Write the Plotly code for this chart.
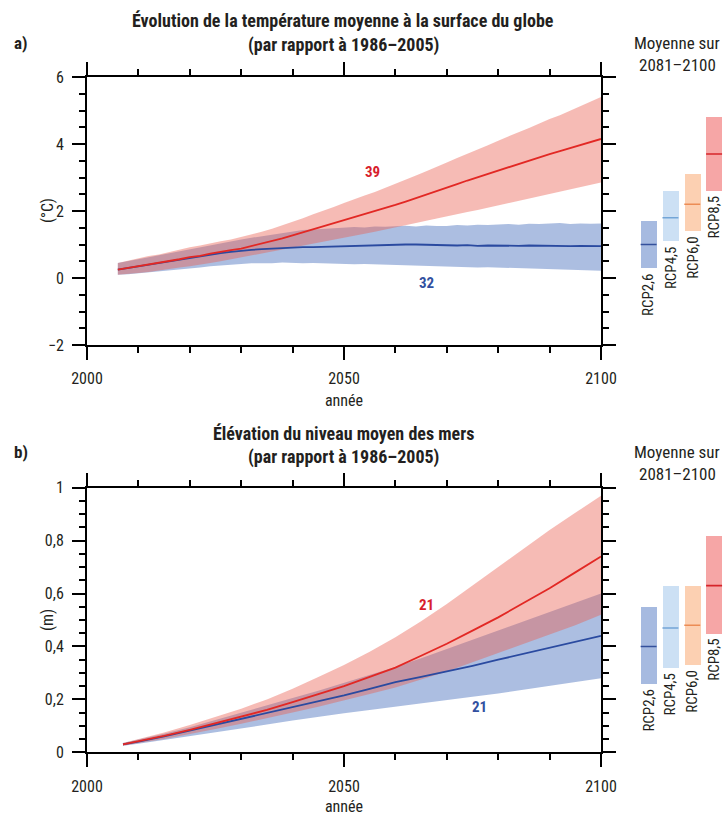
import plotly.graph_objects as go

# ---------------- Panel a: global mean surface temperature ----------------
years_a = [2006, 2008, 2010, 2012, 2014, 2016, 2018, 2020, 2022, 2024, 2026, 2028, 2030, 2032,
           2034, 2036, 2038, 2040, 2042, 2044, 2046, 2048, 2050, 2052, 2054, 2056, 2058, 2060,
           2062, 2064, 2066, 2068, 2070, 2072, 2074, 2076, 2078, 2080, 2082, 2084, 2086, 2088,
           2090, 2092, 2094, 2096, 2098, 2100]

rcp85_mean_a = [0.25, 0.30, 0.34, 0.40, 0.44, 0.50, 0.56, 0.62, 0.66, 0.73, 0.77, 0.83, 0.88, 0.95,
                1.02, 1.09, 1.18, 1.27, 1.36, 1.44, 1.54, 1.64, 1.73, 1.81, 1.90, 1.99, 2.08, 2.18,
                2.28, 2.38, 2.48, 2.60, 2.70, 2.80, 2.91, 3.01, 3.11, 3.22, 3.31, 3.42, 3.50, 3.61,
                3.70, 3.79, 3.88, 3.98, 4.06, 4.15]
rcp85_high_a = [0.45, 0.52, 0.60, 0.66, 0.70, 0.78, 0.86, 0.92, 0.97, 1.04, 1.10, 1.15, 1.22, 1.30,
                1.38, 1.47, 1.57, 1.68, 1.78, 1.90, 2.00, 2.12, 2.24, 2.34, 2.46, 2.57, 2.69, 2.80,
                2.94, 3.06, 3.19, 3.33, 3.45, 3.58, 3.70, 3.84, 3.96, 4.10, 4.22, 4.36, 4.48, 4.61,
                4.75, 4.86, 5.00, 5.12, 5.26, 5.40]
rcp85_low_a = [0.10, 0.12, 0.15, 0.18, 0.22, 0.26, 0.31, 0.35, 0.39, 0.45, 0.50, 0.55, 0.60, 0.66,
               0.72, 0.78, 0.84, 0.90, 0.96, 1.02, 1.08, 1.14, 1.20, 1.26, 1.32, 1.38, 1.44, 1.50,
               1.57, 1.64, 1.71, 1.78, 1.85, 1.91, 1.97, 2.03, 2.09, 2.15, 2.22, 2.29, 2.36, 2.43,
               2.50, 2.57, 2.64, 2.71, 2.78, 2.85]

rcp26_mean_a = [0.25, 0.30, 0.35, 0.40, 0.45, 0.50, 0.55, 0.61, 0.66, 0.70, 0.74, 0.78, 0.82, 0.84,
                0.86, 0.88, 0.89, 0.90, 0.92, 0.92, 0.93, 0.94, 0.95, 0.97, 0.96, 0.98, 0.99, 0.99,
                1.00, 1.00, 0.99, 0.98, 0.98, 0.97, 0.98, 0.96, 0.97, 0.96, 0.97, 0.96, 0.97, 0.96,
                0.97, 0.96, 0.95, 0.96, 0.95, 0.95]
rcp26_high_a = [0.45, 0.50, 0.55, 0.62, 0.68, 0.74, 0.80, 0.85, 0.92, 0.98, 1.05, 1.10, 1.15, 1.20,
                1.25, 1.30, 1.35, 1.40, 1.43, 1.45, 1.47, 1.48, 1.50, 1.52, 1.51, 1.54, 1.53, 1.55,
                1.56, 1.54, 1.57, 1.55, 1.55, 1.58, 1.57, 1.59, 1.58, 1.60, 1.61, 1.59, 1.62, 1.61,
                1.62, 1.64, 1.61, 1.63, 1.62, 1.63]
rcp26_low_a = [0.10, 0.11, 0.12, 0.15, 0.18, 0.21, 0.25, 0.28, 0.31, 0.35, 0.38, 0.40, 0.42, 0.44,
               0.45, 0.44, 0.46, 0.45, 0.44, 0.45, 0.43, 0.44, 0.42, 0.41, 0.42, 0.40, 0.39, 0.38,
               0.37, 0.38, 0.36, 0.35, 0.33, 0.34, 0.32, 0.31, 0.32, 0.30, 0.29, 0.30, 0.28, 0.27,
               0.27, 0.26, 0.25, 0.24, 0.23, 0.22]

# ---------------- Panel b: global mean sea level rise ----------------
years_b = [2007, 2010, 2015, 2020, 2025, 2030, 2035, 2040, 2045, 2050, 2055, 2060, 2065, 2070,
           2075, 2080, 2085, 2090, 2095, 2100]
rcp85_mean_b = [0.030, 0.042, 0.062, 0.085, 0.110, 0.135, 0.160, 0.190, 0.220, 0.250, 0.285, 0.320,
                0.365, 0.410, 0.460, 0.510, 0.565, 0.620, 0.680, 0.740]
rcp85_high_b = [0.035, 0.050, 0.075, 0.103, 0.135, 0.165, 0.200, 0.240, 0.285, 0.330, 0.380, 0.435,
                0.495, 0.560, 0.630, 0.700, 0.770, 0.840, 0.905, 0.970]
rcp85_low_b = [0.025, 0.035, 0.050, 0.068, 0.088, 0.108, 0.128, 0.150, 0.172, 0.195, 0.220, 0.245,
               0.275, 0.305, 0.340, 0.375, 0.410, 0.445, 0.480, 0.520]
rcp26_mean_b = [0.030, 0.040, 0.060, 0.082, 0.105, 0.128, 0.150, 0.172, 0.193, 0.215, 0.240, 0.265,
                0.285, 0.305, 0.327, 0.350, 0.372, 0.394, 0.417, 0.440]
rcp26_high_b = [0.035, 0.048, 0.070, 0.095, 0.122, 0.150, 0.178, 0.205, 0.233, 0.262, 0.292, 0.322,
                0.355, 0.390, 0.425, 0.460, 0.495, 0.530, 0.565, 0.600]
rcp26_low_b = [0.025, 0.032, 0.045, 0.060, 0.075, 0.090, 0.105, 0.120, 0.135, 0.148, 0.160, 0.172,
               0.185, 0.197, 0.210, 0.222, 0.235, 0.250, 0.265, 0.280]

# ---------------- 2081-2100 mean bars ----------------
scenarios = ["RCP2,6", "RCP4,5", "RCP6,0", "RCP8,5"]
temp_mean = [1.0, 1.8, 2.2, 3.7]
temp_low = [0.3, 1.1, 1.4, 2.6]
temp_high = [1.7, 2.6, 3.1, 4.8]
sea_mean = [0.40, 0.47, 0.48, 0.63]
sea_low = [0.26, 0.32, 0.33, 0.45]
sea_high = [0.55, 0.63, 0.63, 0.82]

# number of models
n_models_a = {"rcp85": "39", "rcp26": "32"}
n_models_b = {"rcp85": "21", "rcp26": "21"}

# ---------------- styles ----------------
FONT = "Liberation Sans Narrow, Roboto Condensed, Arial Narrow, Liberation Sans, sans-serif"
TXT = "#231F20"
RED_LINE = "rgb(226,40,36)"
BLUE_LINE = "rgb(42,74,160)"
RED_FILL = "rgba(234,92,78,0.42)"
BLUE_FILL = "rgba(66,106,186,0.44)"
BAR_FILL = ["rgb(166,186,224)", "rgb(204,224,244)", "rgb(252,208,178)", "rgb(246,166,166)"]
BAR_LINE = ["rgb(52,80,155)", "rgb(115,165,215)", "rgb(236,140,85)", "rgb(214,36,42)"]

fig = go.Figure()


def band(x, lo, hi, color, xa, ya):
    fig.add_trace(go.Scatter(x=list(x) + list(x)[::-1], y=list(hi) + list(lo)[::-1],
                             fill="toself", fillcolor=color, line=dict(width=0),
                             mode="lines", hoverinfo="skip", showlegend=False,
                             xaxis=xa, yaxis=ya))


def line(x, y, color, xa, ya):
    fig.add_trace(go.Scatter(x=x, y=y, mode="lines", line=dict(color=color, width=1.8),
                             showlegend=False, xaxis=xa, yaxis=ya))


# panel a
band(years_a, rcp26_low_a, rcp26_high_a, BLUE_FILL, "x", "y")
band(years_a, rcp85_low_a, rcp85_high_a, RED_FILL, "x", "y")
line(years_a, rcp26_mean_a, BLUE_LINE, "x", "y")
line(years_a, rcp85_mean_a, RED_LINE, "x", "y")
# panel b
band(years_b, rcp26_low_b, rcp26_high_b, BLUE_FILL, "x2", "y2")
band(years_b, rcp85_low_b, rcp85_high_b, RED_FILL, "x2", "y2")
line(years_b, rcp26_mean_b, BLUE_LINE, "x2", "y2")
line(years_b, rcp85_mean_b, RED_LINE, "x2", "y2")


def bars(lo, hi, mean, xa, ya):
    idx = list(range(len(scenarios)))
    fig.add_trace(go.Bar(x=idx, y=[h - l for h, l in zip(hi, lo)], base=lo, width=0.73,
                         marker=dict(color=BAR_FILL, line=dict(width=0)),
                         showlegend=False, xaxis=xa, yaxis=ya))
    fig.add_trace(go.Scatter(x=idx, y=mean, mode="markers",
                             marker=dict(symbol="line-ew", size=11.4,
                                         line=dict(color=BAR_LINE, width=1.6)),
                             showlegend=False, xaxis=xa, yaxis=ya))
    for i, s in enumerate(scenarios):
        fig.add_annotation(x=i, y=lo[i], xref=xa, yref=ya, text=s, showarrow=False,
                           textangle=-90, xanchor="center", yanchor="top", yshift=-3,
                           font=dict(family=FONT, size=15, color=TXT))


bars(temp_low, temp_high, temp_mean, "x3", "y3")
bars(sea_low, sea_high, sea_mean, "x4", "y4")

XD = [87 / 725, 601 / 725]
YA = [1 - 345 / 816, 1 - 77 / 816]
YB = [1 - 752.3 / 816, 1 - 487.7 / 816]
XBAR = [637.7 / 725, 1.0]

common_x = dict(range=[2000, 2100], tick0=2000, dtick=50, showline=True, linecolor="black",
                linewidth=2, mirror="ticks", ticks="outside", ticklen=13, tickwidth=2,
                tickcolor="black", showgrid=False, zeroline=False, automargin=False,
                ticklabelstandoff=5,
                tickfont=dict(family=FONT, size=16, color=TXT),
                minor=dict(dtick=10, ticks="outside", ticklen=6, tickwidth=1.5,
                           tickcolor="black", showgrid=False),
                title=dict(text="année", font=dict(family=FONT, size=16, color=TXT), standoff=8))
common_y = dict(showline=True, linecolor="black", linewidth=2, mirror="ticks",
                ticks="outside", ticklen=13, tickwidth=2, tickcolor="black",
                showgrid=False, zeroline=False, ticklabelstandoff=5, automargin=False,
                tickfont=dict(family=FONT, size=16, color=TXT))

fig.update_layout(
    width=725, height=816, autosize=False,
    margin=dict(l=0, r=0, t=0, b=0),
    paper_bgcolor="white", plot_bgcolor="white",
    separators=", ",
    showlegend=False,
    font=dict(family=FONT, color=TXT),
    xaxis=dict(domain=XD, anchor="y", **common_x),
    yaxis=dict(domain=YA, anchor="x", range=[-2, 6], tick0=-2, dtick=2,
               minor=dict(dtick=0.5, ticks="outside", ticklen=6, tickwidth=1.5,
                          tickcolor="black", showgrid=False),
               **common_y),
    xaxis2=dict(domain=XD, anchor="y2", **common_x),
    yaxis2=dict(domain=YB, anchor="x2", range=[0, 1], tick0=0, dtick=0.2,
                minor=dict(dtick=0.05, ticks="outside", ticklen=6, tickwidth=1.5,
                           tickcolor="black", showgrid=False),
                **common_y),
    xaxis3=dict(domain=XBAR, anchor="y3", range=[-0.5, 3.5], visible=False),
    yaxis3=dict(domain=YA, anchor="x3", range=[-2, 6], visible=False),
    xaxis4=dict(domain=XBAR, anchor="y4", range=[-0.5, 3.5], visible=False),
    yaxis4=dict(domain=YB, anchor="x4", range=[0, 1], visible=False),
    bargap=0,
)

# model counts
NUMFONT_R = dict(family=FONT, size=15, color="rgb(215,30,45)")
NUMFONT_B = dict(family=FONT, size=15, color="rgb(50,80,160)")
fig.add_annotation(x=2055.6, y=3.16, xref="x", yref="y", text="<b>" + n_models_a["rcp85"] + "</b>",
                   showarrow=False, font=NUMFONT_R)
fig.add_annotation(x=2066, y=-0.15, xref="x", yref="y", text="<b>" + n_models_a["rcp26"] + "</b>",
                   showarrow=False, font=NUMFONT_B)
fig.add_annotation(x=2066, y=0.557, xref="x2", yref="y2", text="<b>" + n_models_b["rcp85"] + "</b>",
                   showarrow=False, font=NUMFONT_R)
fig.add_annotation(x=2076.4, y=0.172, xref="x2", yref="y2", text="<b>" + n_models_b["rcp26"] + "</b>",
                   showarrow=False, font=NUMFONT_B)

# titles and labels
def ptext(x, y, text, size=16, bold=False, anchor="center", angle=0):
    t = f"<b>{text}</b>" if bold else text
    fig.add_annotation(x=x / 725, y=1 - y / 816, xref="paper", yref="paper", text=t,
                       showarrow=False, xanchor=anchor, yanchor="middle", textangle=angle,
                       font=dict(family=FONT, size=size, color=TXT))


ptext(343, 20, "Évolution de la température moyenne à la surface du globe", 18, True)
ptext(343, 45, "(par rapport à 1986–2005)", 18, True)
ptext(12, 43, "a)", 17, True, "left")
ptext(677, 43, "Moyenne sur", 17)
ptext(677, 65, "2081–2100", 17)
ptext(48, 211, "(°C)", 16, angle=-90)

ptext(343, 433, "Élévation du niveau moyen des mers", 18, True)
ptext(343, 457, "(par rapport à 1986–2005)", 18, True)
ptext(12, 452, "b)", 17, True, "left")
ptext(677, 452, "Moyenne sur", 17)
ptext(677, 474, "2081–2100", 17)
ptext(47, 620, "(m)", 16, angle=-90)

fig.write_html("out.html", config={"displayModeBar": False},
               post_script="document.body.style.margin='0';document.body.style.overflow='hidden';")
